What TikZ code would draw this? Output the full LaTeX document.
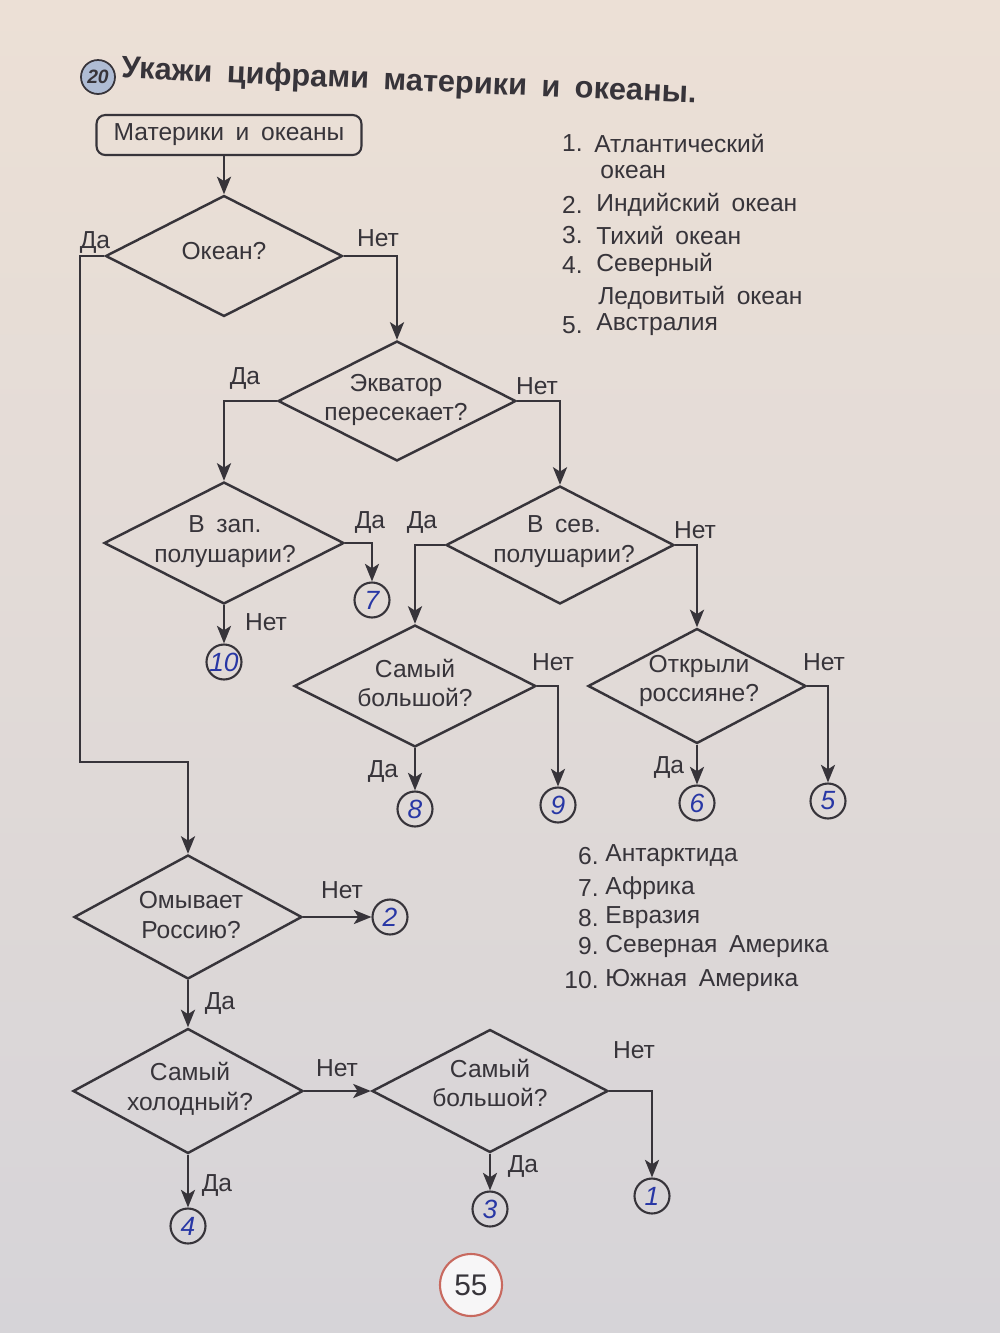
\documentclass[tikz,border=0pt]{standalone}
\usepackage{fontspec}
\setmainfont[WordSpace=1.7]{Liberation Sans}
\usetikzlibrary{shapes.geometric,arrows.meta}
\definecolor{ink}{RGB}{55,52,58}
\definecolor{pen}{RGB}{40,55,165}
\definecolor{paperA}{RGB}{236,224,214}
\definecolor{paperB}{RGB}{214,212,216}
\definecolor{badgefill}{RGB}{175,188,212}
\definecolor{pagered}{RGB}{200,105,95}
\begin{document}
\begin{tikzpicture}[x=0.02cm,y=-0.02cm,
  every node/.style={text=ink},
  dia/.style={diamond, draw=ink, line width=1.4pt, inner sep=0pt},
  qtxt/.style={font=\fontsize{14}{17}\selectfont, align=center, inner sep=0pt},
  lbl/.style={font=\fontsize{14}{17}\selectfont, inner sep=0pt},
  ans/.style={circle, draw=ink, line width=1.2pt, minimum size=0.7cm, inner sep=0pt, font=\fontsize{15}{15}\itshape\selectfont, text=pen},
  conn/.style={draw=ink, line width=1.5pt, -{Stealth[length=10pt,width=8pt,inset=2.5pt]}},
  lst/.style={font=\fontsize{14}{17}\selectfont, inner sep=0pt}
]
\useasboundingbox (0,0) rectangle (1000,1333);
\shade[top color=paperA, bottom color=paperB] (0,0) rectangle (1000,1333);

% title
\node[circle, draw=ink, line width=1pt, fill=badgefill, minimum size=0.68cm, inner sep=0pt, font=\fontsize{11}{11}\bfseries\itshape\selectfont] (badge) at (98,77) {20};
\node[anchor=west, rotate=-2.5, font=\fontsize{17.5}{20}\bfseries\selectfont, inner sep=0pt] (title) at (121,70) {Укажи цифрами материки и океаны.};

% start
\node[draw=ink, line width=1.2pt, rounded corners=5pt, minimum width=5.3cm, minimum height=0.8cm, lbl] (start) at (229,135) {Материки и океаны};

% diamonds
\node[dia, minimum width=4.74cm, minimum height=2.42cm] (d1) at (224,256) {};
\node[qtxt] (t1) at (224,251) {Океан?};
\node[dia, minimum width=4.76cm, minimum height=2.4cm] (d2) at (397,401) {};
\node[qtxt] (t2) at (396,400) {Экватор\\пересекает?};
\node[dia, minimum width=4.8cm, minimum height=2.44cm] (d3) at (224,543) {};
\node[qtxt] (t3) at (225,542) {В зап.\\полушарии?};
\node[dia, minimum width=4.56cm, minimum height=2.36cm] (d4) at (560,545) {};
\node[qtxt] (t4) at (564,542) {В сев.\\полушарии?};
\node[dia, minimum width=4.84cm, minimum height=2.44cm] (d5) at (415,686) {};
\node[qtxt] (t5) at (415,683) {Самый\\большой?};
\node[dia, minimum width=4.36cm, minimum height=2.3cm] (d6) at (697,686) {};
\node[qtxt] (t6) at (699,681) {Открыли\\россияне?};
\node[dia, minimum width=4.56cm, minimum height=2.48cm] (d7) at (188,917) {};
\node[qtxt] (t7) at (191,915) {Омывает\\Россию?};
\node[dia, minimum width=4.6cm, minimum height=2.5cm] (d8) at (188,1091) {};
\node[qtxt] (t8) at (190,1089) {Самый\\холодный?};
\node[dia, minimum width=4.72cm, minimum height=2.46cm] (d9) at (490,1091) {};
\node[qtxt] (t9) at (490,1083) {Самый\\большой?};

% answer circles
\node[ans] (c7) at (372,600) {7};
\node[ans] (c10) at (224,662) {10};
\node[ans] (c8) at (415,809) {8};
\node[ans] (c9) at (558,805) {9};
\node[ans] (c6) at (697,803) {6};
\node[ans] (c5) at (828,801) {5};
\node[ans] (c2) at (390,917) {2};
\node[ans] (c4) at (188,1226) {4};
\node[ans] (c3) at (490,1209) {3};
\node[ans] (c1) at (652,1196) {1};

% connectors
\draw[conn] (start.south -| d1.north) -- (d1.north);
\coordinate (k1) at (80,762);
\draw[conn] (d1.west) -| (k1) -| (d7.north);
\draw[conn] (d1.east) -| (d2.north);
\draw[conn] (d2.west) -| (d3.north);
\draw[conn] (d2.east) -| (d4.north);
\draw[conn] (d3.east) -| (c7.north);
\draw[conn] (d3.south) -- (c10.north);
\draw[conn] (d4.west) -| (d5.north);
\draw[conn] (d4.east) -| (d6.north);
\draw[conn] (d5.east) -| (c9.north);
\draw[conn] (d5.south) -- (c8.north);
\draw[conn] (d6.east) -| (c5.north);
\draw[conn] (d6.south) -- (c6.north);
\draw[conn] (d7.east) -- (c2.west);
\draw[conn] (d7.south) -- (d8.north);
\draw[conn] (d8.east) -- (d9.west);
\draw[conn] (d8.south) -- (c4.north);
\draw[conn] (d9.east) -| (c1.north);
\draw[conn] (d9.south) -- (c3.north);

% branch labels
\node[lbl] (l1) at (95,242) {Да};
\node[lbl] (l2) at (378,238) {Нет};
\node[lbl] (l3) at (245,378) {Да};
\node[lbl] (l4) at (537,386) {Нет};
\node[lbl] (l5) at (370,522) {Да};
\node[lbl] (l6) at (422,522) {Да};
\node[lbl] (l7) at (266,622) {Нет};
\node[lbl] (l8) at (695,530) {Нет};
\node[lbl] (l9) at (553,662) {Нет};
\node[lbl] (l10) at (824,662) {Нет};
\node[lbl] (l11) at (383,771) {Да};
\node[lbl] (l12) at (669,767) {Да};
\node[lbl] (l13) at (342,890) {Нет};
\node[lbl] (l14) at (220,1003) {Да};
\node[lbl] (l15) at (337,1068) {Нет};
\node[lbl] (l16) at (634,1050) {Нет};
\node[lbl] (l17) at (217,1185) {Да};
\node[lbl] (l18) at (523,1166) {Да};

% top list
\node[lst, anchor=east] (n1) at (583,143) {1.};
\node[lst, anchor=west] (m1) at (594,143) {Атлантический};
\node[lst, anchor=west] (m1b) at (600,172) {океан};
\node[lst, anchor=east] (n2) at (583,205) {2.};
\node[lst, anchor=west] (m2) at (596,205) {Индийский океан};
\node[lst, anchor=east] (n3) at (583,235) {3.};
\node[lst, anchor=west] (m3) at (596,235) {Тихий океан};
\node[lst, anchor=east] (n4) at (583,265) {4.};
\node[lst, anchor=west] (m4) at (596,265) {Северный};
\node[lst, anchor=west] (m4b) at (598,298) {Ледовитый океан};
\node[lst, anchor=east] (n5) at (583,325) {5.};
\node[lst, anchor=west] (m5) at (596,325) {Австралия};

% bottom list
\node[lst, anchor=east] (n6) at (599,856) {6.};
\node[lst, anchor=west] (m6) at (605,856) {Антарктида};
\node[lst, anchor=east] (n7) at (599,888) {7.};
\node[lst, anchor=west] (m7) at (605,888) {Африка};
\node[lst, anchor=east] (n8) at (599,918) {8.};
\node[lst, anchor=west] (m8) at (605,918) {Евразия};
\node[lst, anchor=east] (n9) at (599,946) {9.};
\node[lst, anchor=west] (m9) at (605,946) {Северная Америка};
\node[lst, anchor=east] (n10) at (599,980) {10.};
\node[lst, anchor=west] (m10) at (605,980) {Южная Америка};

% page number
\node[circle, draw=pagered, line width=1.2pt, fill=white!80!paperB, minimum size=1.24cm, inner sep=0pt, font=\fontsize{17}{17}\selectfont] (pg) at (471,1285) {55};
\end{tikzpicture}
\end{document}
